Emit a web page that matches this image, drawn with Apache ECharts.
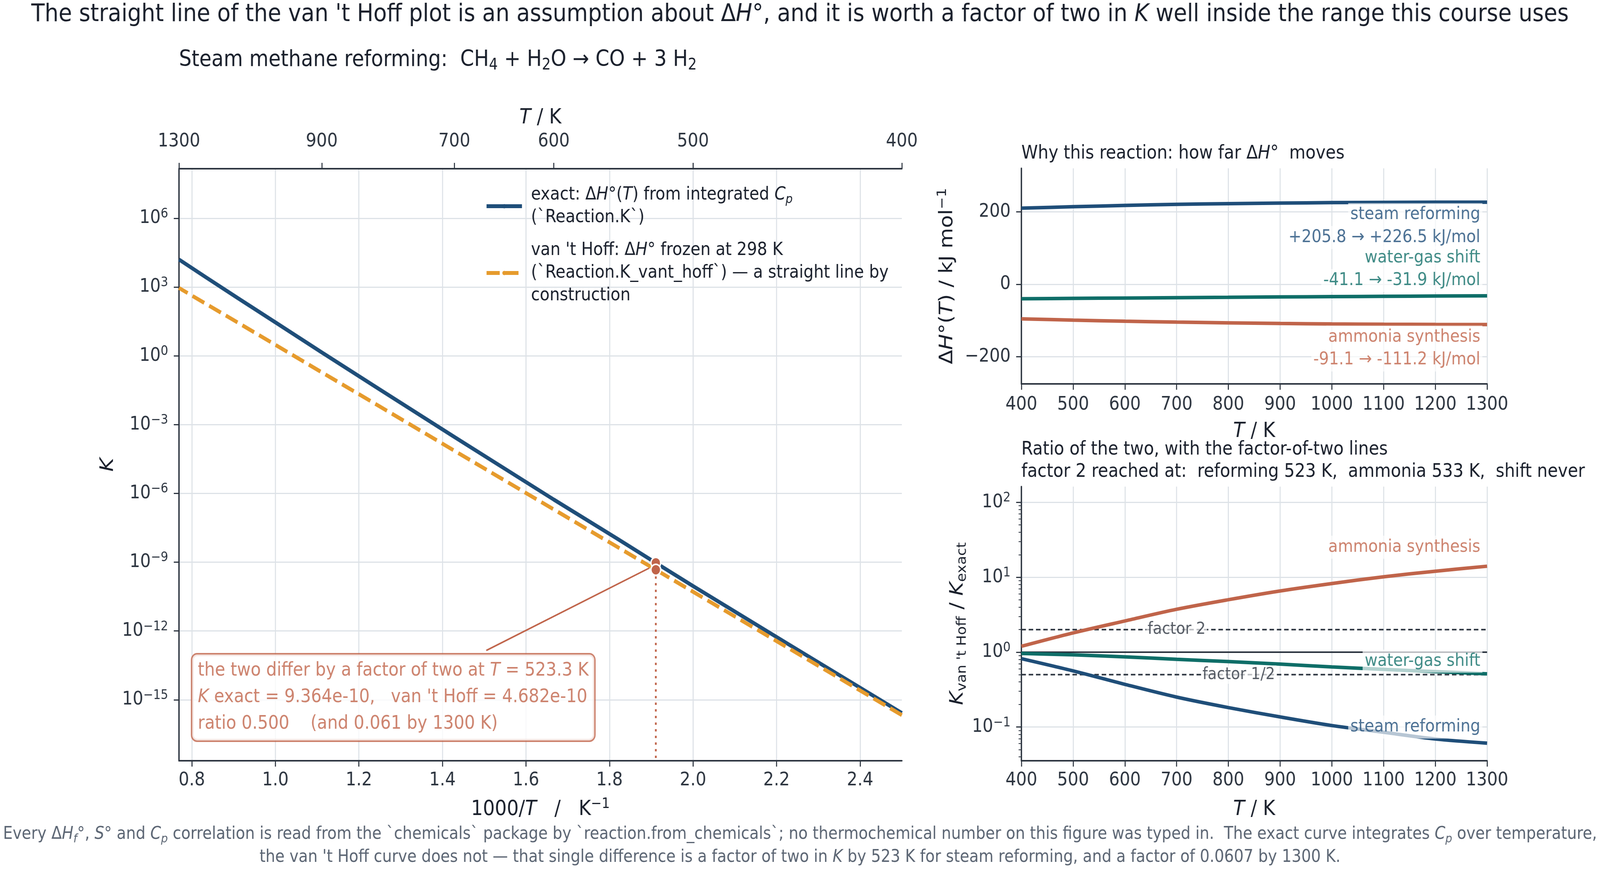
<!DOCTYPE html>
<html>
<head>
<meta charset="utf-8">
<script src="https://cdn.jsdelivr.net/npm/echarts@6.0.0/dist/echarts.min.js"></script>
<style>
  html, body { margin: 0; padding: 0; background: #ffffff; overflow: hidden; }
  #wrap { width: 4604px; height: 2238px; transform-origin: 0 0; }
  #chart { width: 4604px; height: 2238px; }
</style>
</head>
<body>
<div id="wrap"><div id="chart"></div></div>
<script>
// ---- values ----
// main panel: temperatures and log10 K for steam methane reforming
var T_MAIN = [400, 450, 500, 523.3, 550, 600, 700, 800, 900, 1000, 1100, 1200, 1300];
var LOGK_EXACT = [-15.58, -12.51, -10.04, -9.03, -7.97, -6.27, -3.54, -1.47, 0.15, 1.46, 2.53, 3.43, 4.20];
var LOGK_VANT = [-15.67, -12.68, -10.29, -9.33, -8.33, -6.70, -4.14, -2.21, -0.72, 0.48, 1.46, 2.27, 2.96];
var HIT_INDEX = 3; // the 523.3 K point where the two differ by a factor of two

// right panels: temperature grid
var T_SIDE = [400, 500, 600, 700, 800, 900, 1000, 1100, 1200, 1300];
// delta H (kJ/mol)
var DH_REFORM = [210.0, 214.0, 217.5, 220.5, 222.5, 224.0, 225.3, 226.0, 226.4, 226.5];
var DH_SHIFT = [-40.0, -39.0, -38.0, -37.0, -36.0, -35.0, -34.2, -33.4, -32.6, -31.9];
var DH_AMMONIA = [-95.5, -99.0, -102.0, -104.5, -106.5, -108.2, -109.5, -110.4, -111.0, -111.2];
// log10 of K_vant_hoff / K_exact
var LOGRATIO_REFORM = [-0.087, -0.25, -0.43, -0.60, -0.74, -0.865, -0.98, -1.07, -1.16, -1.215];
var LOGRATIO_SHIFT = [-0.018, -0.036, -0.063, -0.096, -0.126, -0.16, -0.198, -0.23, -0.26, -0.29];
var LOGRATIO_AMMONIA = [0.078, 0.257, 0.416, 0.572, 0.70, 0.817, 0.916, 1.006, 1.08, 1.147];

// tick labels
var MAIN_X_TICKS = [0.8, 1.0, 1.2, 1.4, 1.6, 1.8, 2.0, 2.2, 2.4];
var TOP_T_TICKS = [1300, 900, 700, 600, 500, 400];
var MAIN_Y_TICKS = [-15, -12, -9, -6, -3, 0, 3, 6];
var DH_Y_TICKS = [-200, 0, 200];
var RATIO_Y_TICKS = [-1, 0, 1, 2];

// ---- style ----
var FONT = 'DejaVu Sans';
var INK = '#1a202c';
var AX = '#2d3540';
var GRID = '#dde2e7';
var NAVY = '#1f4e79';
var ORANGE = '#e69b2d';
var TEAL = '#0f6e68';
var RUST = '#c0644a';
var NOTE = '#5b6573';

var TICK_FS = 48;
var NAME_FS = 54;
var PANEL_TITLE_FS = 48;

var MAIN_X_MIN = 1000 / 1300, MAIN_X_MAX = 2.5;
var MAIN_Y_MIN = -17.66, MAIN_Y_MAX = 8.16;
var RATIO_Y_MIN = -1.45, RATIO_Y_MAX = 2.21;

// the page is laid out at 4604 x 2238; stretch it to fill whatever the viewport is
var fitX = window.innerWidth / 4604;
var fitY = window.innerHeight / 2238;
document.getElementById('wrap').style.transform = 'scale(' + fitX + ',' + fitY + ')';

function sup(v) {
    return String(v).replace('-', '\u2212');
}
function pow10Label(v) {
    return '10{sup|' + sup(v) + '}';
}
// minor ticks of the log ratio axis
var ratioMinor = [];
for (var d = -2; d <= 2; d++) {
    for (var m = 2; m <= 9; m++) {
        var lv = Math.log10(m) + d;
        if (lv > RATIO_Y_MIN && lv < RATIO_Y_MAX) ratioMinor.push(lv);
    }
}

function mainPairs(vals) {
    return T_MAIN.map(function(t, i) { return [1000 / t, vals[i]]; });
}
function sidePairs(vals) {
    return T_SIDE.map(function(t, i) { return [t, vals[i]]; });
}

function rich(size, color, extra) {
    var o = {fontSize: size, fontFamily: FONT, color: color};
    for (var k in extra) o[k] = extra[k];
    return o;
}
function gRich(size, color, extra) {
    var o = {fontSize: size, fontFamily: FONT, fill: color};
    for (var k in extra) o[k] = extra[k];
    return o;
}

var tickLabel = {fontSize: TICK_FS, fontFamily: FONT, color: AX};
var supRich = {sup: rich(34, AX, {verticalAlign: 'top', lineHeight: 28})};

function axisLineStyle() { return {show: true, onZero: false, lineStyle: {color: AX, width: 4}}; }
function tickStyle(vals, len) {
    var t = {show: true, length: len || 15, lineStyle: {color: AX, width: 3}};
    if (vals) t.customValues = vals;
    return t;
}
var nameStyle = {fontSize: NAME_FS, fontFamily: FONT, color: INK, lineHeight: 64,
    rich: {i: rich(NAME_FS, INK, {fontStyle: 'italic', lineHeight: 64}),
           sup: rich(37, INK, {verticalAlign: 'top', lineHeight: 36}),
           sub: rich(37, INK, {verticalAlign: 'bottom', lineHeight: 36})}};

var xHit = 1000 / T_MAIN[HIT_INDEX];

// annotation placement (data coords of the main panel)
var ANNO_AT = [0.801, -14.9];
var ANNO_ARROW_FROM = [1.505, -12.85];
var ANNO_ARROW_TO = [1.895, -9.26];

var chart = echarts.init(document.getElementById('chart'), null, {renderer: 'canvas'});

var option = {
    animation: false,
    backgroundColor: '#ffffff',
    textStyle: {fontFamily: FONT},
    grid: [
        {left: 515, top: 432, width: 2080, height: 1516, outerBoundsMode: 'none'},
        {left: 2939, top: 431, width: 1340, height: 552, outerBoundsMode: 'none'},
        {left: 2939, top: 1246, width: 1340, height: 702, outerBoundsMode: 'none'}
    ],
    legend: {
        data: ['exact', 'vanthoff'],
        orient: 'vertical',
        left: 1395, top: 470,
        padding: 0,
        itemWidth: 102, itemHeight: 14, itemGap: 26,
        lineStyle: {width: 10},
        selectedMode: false,
        formatter: function(name) {
            if (name === 'exact') {
                return 'exact: \u0394{i|H}\u00b0({i|T}) from integrated {i|C}{sub|p}\n(`Reaction.K`)';
            }
            return 'van \'t Hoff: \u0394{i|H}\u00b0 frozen at 298 K\n(`Reaction.K_vant_hoff`) \u2014 a straight line by\nconstruction';
        },
        textStyle: {
            fontSize: 46, fontFamily: FONT, color: INK, lineHeight: 58, padding: [0, 0, 0, 21],
            rich: {
                i: rich(46, INK, {fontStyle: 'italic', lineHeight: 58}),
                sub: rich(32, INK, {fontStyle: 'italic', verticalAlign: 'bottom', lineHeight: 32})
            }
        }
    },
    xAxis: [
        {   // main, bottom: 1000/T
            gridIndex: 0, type: 'value', position: 'bottom',
            min: MAIN_X_MIN, max: MAIN_X_MAX,
            axisLine: axisLineStyle(),
            axisTick: tickStyle(MAIN_X_TICKS),
            axisLabel: Object.assign({customValues: MAIN_X_TICKS, margin: 27,
                formatter: function(v) { return v.toFixed(1); }}, tickLabel),
            splitLine: {show: true, lineStyle: {color: GRID, width: 3}},
            name: '1000/{i|T}   /   K{sup|\u22121}', nameLocation: 'middle', nameGap: 93,
            nameTextStyle: nameStyle
        },
        {   // main, top: T
            gridIndex: 0, type: 'value', position: 'top',
            min: MAIN_X_MIN, max: MAIN_X_MAX,
            axisLine: axisLineStyle(),
            axisTick: tickStyle(TOP_T_TICKS.map(function(t) { return 1000 / t; }), 15),
            axisLabel: Object.assign({customValues: TOP_T_TICKS.map(function(t) { return 1000 / t; }), margin: 45,
                formatter: function(v) { return String(Math.round(1000 / v)); }}, tickLabel),
            splitLine: {show: false},
            name: '{i|T} / K', nameLocation: 'middle', nameGap: 92,
            nameTextStyle: nameStyle
        },
        {   // delta H panel
            gridIndex: 1, type: 'value', min: 400, max: 1300, interval: 100,
            axisLine: axisLineStyle(),
            axisTick: tickStyle(null),
            axisLabel: Object.assign({margin: 30, formatter: function(v) { return String(v); }}, tickLabel),
            splitLine: {show: true, lineStyle: {color: GRID, width: 3}},
            name: '{i|T} / K', nameLocation: 'middle', nameGap: 90,
            nameTextStyle: nameStyle
        },
        {   // ratio panel
            gridIndex: 2, type: 'value', min: 400, max: 1300, interval: 100,
            axisLine: axisLineStyle(),
            axisTick: tickStyle(null),
            axisLabel: Object.assign({margin: 27, formatter: function(v) { return String(v); }}, tickLabel),
            splitLine: {show: true, lineStyle: {color: GRID, width: 3}},
            name: '{i|T} / K', nameLocation: 'middle', nameGap: 93,
            nameTextStyle: nameStyle
        }
    ],
    yAxis: [
        {   // main log K
            gridIndex: 0, type: 'value', min: MAIN_Y_MIN, max: MAIN_Y_MAX,
            axisLine: axisLineStyle(),
            axisTick: tickStyle(MAIN_Y_TICKS),
            axisLabel: Object.assign({customValues: MAIN_Y_TICKS, margin: 31, lineHeight: 56,
                formatter: pow10Label, rich: supRich}, tickLabel),
            splitLine: {show: true, lineStyle: {color: GRID, width: 3}},
            name: '{i|K}', nameLocation: 'middle', nameGap: 172,
            nameTextStyle: nameStyle
        },
        {   // delta H
            gridIndex: 1, type: 'value', min: -275, max: 320,
            axisLine: axisLineStyle(),
            axisTick: tickStyle(DH_Y_TICKS),
            axisLabel: Object.assign({customValues: DH_Y_TICKS, margin: 31,
                formatter: function(v) { return sup(v); }}, tickLabel),
            splitLine: {show: true, lineStyle: {color: GRID, width: 3}},
            name: '\u0394{i|H}\u00b0({i|T}) / kJ mol{sup|\u22121}', nameLocation: 'middle', nameGap: 181,
            nameTextStyle: nameStyle
        },
        {   // ratio, log
            gridIndex: 2, type: 'value', min: RATIO_Y_MIN, max: RATIO_Y_MAX,
            axisLine: axisLineStyle(),
            axisTick: tickStyle(RATIO_Y_TICKS),
            axisLabel: Object.assign({customValues: RATIO_Y_TICKS, margin: 31, lineHeight: 56,
                formatter: pow10Label, rich: supRich}, tickLabel),
            splitLine: {show: true, lineStyle: {color: GRID, width: 3}},
            name: '{i|K}{sub|van \'t Hoff} / {i|K}{sub|exact}', nameLocation: 'middle', nameGap: 151,
            nameTextStyle: nameStyle
        },
        {   // ratio minor ticks
            gridIndex: 2, type: 'value', position: 'left', offset: 0,
            min: RATIO_Y_MIN, max: RATIO_Y_MAX,
            axisLine: {show: false},
            axisTick: {show: true, length: 8, customValues: ratioMinor, lineStyle: {color: AX, width: 2}},
            axisLabel: {show: false},
            splitLine: {show: false}
        }
    ],
    series: [
        {
            name: 'exact', type: 'line', xAxisIndex: 0, yAxisIndex: 0,
            data: mainPairs(LOGK_EXACT), symbol: 'none', smooth: false,
            lineStyle: {color: NAVY, width: 10}, itemStyle: {color: NAVY}, z: 3
        },
        {
            name: 'vanthoff', type: 'line', xAxisIndex: 0, yAxisIndex: 0,
            data: mainPairs(LOGK_VANT), symbol: 'none',
            lineStyle: {color: ORANGE, width: 10, type: [38, 16]}, itemStyle: {color: ORANGE}, z: 3
        },
        {   // dotted drop line at the factor-two temperature
            type: 'line', xAxisIndex: 0, yAxisIndex: 0, symbol: 'none',
            data: [[xHit, LOGK_VANT[HIT_INDEX]], [xHit, MAIN_Y_MIN]],
            lineStyle: {color: RUST, width: 5, type: [6, 11]}, z: 2, silent: true
        },
        {   // annotation arrow
            type: 'line', xAxisIndex: 0, yAxisIndex: 0, symbol: 'none',
            data: [ANNO_ARROW_FROM, ANNO_ARROW_TO],
            lineStyle: {color: RUST, width: 4}, z: 4, silent: true
        },
        {
            type: 'scatter', xAxisIndex: 0, yAxisIndex: 0,
            data: [[xHit, LOGK_EXACT[HIT_INDEX]], [xHit, LOGK_VANT[HIT_INDEX]]],
            symbolSize: 28,
            itemStyle: {color: RUST, borderColor: '#ffffff', borderWidth: 4, opacity: 1}, z: 5
        },
        {
            type: 'scatter', xAxisIndex: 0, yAxisIndex: 0, data: [ANNO_AT], symbolSize: 0, z: 6, silent: true,
            label: {
                show: true, position: 'right', distance: 0,
                formatter: 'the two differ by a factor of two at {i|T} = 523.3 K\n{i|K} exact = 9.364e-10,   van \'t Hoff = 4.682e-10\nratio 0.500    (and 0.061 by 1300 K)',
                fontSize: 48, fontFamily: FONT, color: RUST, lineHeight: 68, align: 'left',
                backgroundColor: '#ffffff', borderColor: RUST, borderWidth: 4, borderRadius: 14,
                padding: [8, 16, 8, 16],
                rich: {i: rich(48, RUST, {fontStyle: 'italic', lineHeight: 68})}
            }
        },

        // ---- delta H panel ----
        {type: 'line', xAxisIndex: 2, yAxisIndex: 1, data: sidePairs(DH_REFORM), symbol: 'none', smooth: 0.3,
            lineStyle: {color: NAVY, width: 9}, z: 3},
        {type: 'line', xAxisIndex: 2, yAxisIndex: 1, data: sidePairs(DH_SHIFT), symbol: 'none', smooth: 0.3,
            lineStyle: {color: TEAL, width: 9}, z: 3},
        {type: 'line', xAxisIndex: 2, yAxisIndex: 1, data: sidePairs(DH_AMMONIA), symbol: 'none', smooth: 0.3,
            lineStyle: {color: RUST, width: 9}, z: 3},
        {
            type: 'scatter', xAxisIndex: 2, yAxisIndex: 1, symbolSize: 0, z: 8, silent: true,
            label: {show: true, position: 'left', distance: 0, fontSize: 45, fontFamily: FONT,
                backgroundColor: 'rgba(255,255,255,0.85)', padding: [7, 6, 7, 6]},
            data: [
                {value: [1291, 192], label: {formatter: 'steam reforming', color: NAVY}},
                {value: [1291, 129], label: {formatter: '+205.8 \u2192 +226.5 kJ/mol', color: NAVY}},
                {value: [1291, 73], label: {formatter: 'water-gas shift', color: TEAL}},
                {value: [1291, 10], label: {formatter: '-41.1 \u2192 -31.9 kJ/mol', color: TEAL}},
                {value: [1291, -146], label: {formatter: 'ammonia synthesis', color: RUST}},
                {value: [1291, -209], label: {formatter: '-91.1 \u2192 -111.2 kJ/mol', color: RUST}}
            ]
        },

        // ---- ratio panel ----
        {type: 'line', xAxisIndex: 3, yAxisIndex: 2, symbol: 'none', data: [[400, 0], [1300, 0]],
            lineStyle: {color: AX, width: 4}, z: 2, silent: true},
        {type: 'line', xAxisIndex: 3, yAxisIndex: 2, symbol: 'none', data: [[400, Math.log10(2)], [1300, Math.log10(2)]],
            lineStyle: {color: AX, width: 4, type: [13, 8]}, z: 2, silent: true},
        {type: 'line', xAxisIndex: 3, yAxisIndex: 2, symbol: 'none', data: [[400, Math.log10(0.5)], [1300, Math.log10(0.5)]],
            lineStyle: {color: AX, width: 4, type: [13, 8]}, z: 2, silent: true},
        {type: 'line', xAxisIndex: 3, yAxisIndex: 2, data: sidePairs(LOGRATIO_AMMONIA), symbol: 'none', smooth: 0.3,
            lineStyle: {color: RUST, width: 9}, z: 3},
        {type: 'line', xAxisIndex: 3, yAxisIndex: 2, data: sidePairs(LOGRATIO_SHIFT), symbol: 'none', smooth: 0.3,
            lineStyle: {color: TEAL, width: 9}, z: 3},
        {type: 'line', xAxisIndex: 3, yAxisIndex: 2, data: sidePairs(LOGRATIO_REFORM), symbol: 'none', smooth: 0.3,
            lineStyle: {color: NAVY, width: 9}, z: 3},
        {
            type: 'scatter', xAxisIndex: 3, yAxisIndex: 2, symbolSize: 0, z: 8, silent: true,
            label: {show: true, position: 'inside', fontSize: 43, fontFamily: FONT, color: AX,
                backgroundColor: 'rgba(255,255,255,0.85)', padding: [2, 4, 2, 4]},
            data: [
                {value: [700, Math.log10(2)], label: {formatter: 'factor 2'}},
                {value: [820, Math.log10(0.5)], label: {formatter: 'factor 1/2'}}
            ]
        },
        {
            type: 'scatter', xAxisIndex: 3, yAxisIndex: 2, symbolSize: 0, z: 8, silent: true,
            label: {show: true, position: 'left', distance: 0, fontSize: 45, fontFamily: FONT,
                backgroundColor: 'rgba(255,255,255,0.85)', padding: [7, 6, 7, 6]},
            data: [
                {value: [1291, 1.40], label: {formatter: 'ammonia synthesis', color: RUST}},
                {value: [1291, -0.12], label: {formatter: 'water-gas shift', color: TEAL}},
                {value: [1291, -1.0], label: {formatter: 'steam reforming', color: NAVY}}
            ]
        }
    ],
    graphic: [
        {
            type: 'text', x: 2302, y: 38, silent: true,
            style: {
                text: 'The straight line of the van \'t Hoff plot is an assumption about \u0394{i|H}\u00b0, and it is worth a factor of two in {i|K} well inside the range this course uses',
                fontSize: 63, fontFamily: FONT, fill: INK, align: 'center', verticalAlign: 'middle',
                rich: {i: gRich(63, INK, {fontStyle: 'italic'})}
            }
        },
        {
            type: 'text', x: 515, y: 154, silent: true,
            style: {
                text: 'Steam methane reforming:  CH{sub|4} + H{sub|2}O \u2192 CO + 3 H{sub|2}',
                fontSize: 57, fontFamily: FONT, fill: INK, align: 'left', verticalAlign: 'middle', lineHeight: 68,
                rich: {sub: gRich(40, INK, {verticalAlign: 'bottom', lineHeight: 38})}
            }
        },
        {
            type: 'text', x: 2939, y: 394, silent: true,
            style: {
                text: 'Why this reaction: how far \u0394{i|H}\u00b0  moves',
                fontSize: PANEL_TITLE_FS, fontFamily: FONT, fill: INK, align: 'left', verticalAlign: 'middle',
                rich: {i: gRich(PANEL_TITLE_FS, INK, {fontStyle: 'italic'})}
            }
        },
        {
            type: 'text', x: 2939, y: 1152, silent: true,
            style: {text: 'Ratio of the two, with the factor-of-two lines', fontSize: PANEL_TITLE_FS, fontFamily: FONT,
                fill: INK, align: 'left', verticalAlign: 'middle'}
        },
        {
            type: 'text', x: 2939, y: 1209, silent: true,
            style: {text: 'factor 2 reached at:  reforming 523 K,  ammonia 533 K,  shift never', fontSize: PANEL_TITLE_FS,
                fontFamily: FONT, fill: INK, align: 'left', verticalAlign: 'middle'}
        },
        {
            type: 'text', x: 2302, y: 2137, silent: true,
            style: {
                text: 'Every \u0394{i|H}{sub|f}\u00b0, {i|S}\u00b0 and {i|C}{sub|p} correlation is read from the `chemicals` package by `reaction.from_chemicals`; no thermochemical number on this figure was typed in.  The exact curve integrates {i|C}{sub|p} over temperature,',
                fontSize: 44, fontFamily: FONT, fill: NOTE, align: 'center', verticalAlign: 'middle', lineHeight: 54,
                rich: {i: gRich(44, NOTE, {fontStyle: 'italic', lineHeight: 54}),
                       sub: gRich(31, NOTE, {fontStyle: 'italic', verticalAlign: 'bottom', lineHeight: 31})}
            }
        },
        {
            type: 'text', x: 2302, y: 2196, silent: true,
            style: {
                text: 'the van \'t Hoff curve does not \u2014 that single difference is a factor of two in {i|K} by 523 K for steam reforming, and a factor of 0.0607 by 1300 K.',
                fontSize: 44, fontFamily: FONT, fill: NOTE, align: 'center', verticalAlign: 'middle',
                rich: {i: gRich(44, NOTE, {fontStyle: 'italic'})}
            }
        }
    ]
};

chart.setOption(option);
</script>
</body>
</html>
